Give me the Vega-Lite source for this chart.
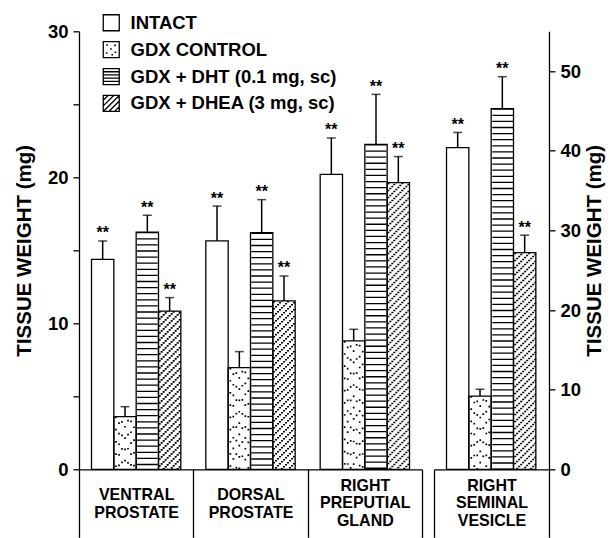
{
  "$schema": "https://vega.github.io/schema/vega-lite/v6.json",
  "autosize": {"type": "pad"},
  "padding": {"left": 14, "top": 13.3, "right": 0, "bottom": 0},
  "config": {"view": {"stroke": null}, "font": "Liberation Sans", "axis": {"grid": false}},
  "spacing": 10,
  "resolve": {"scale": {"fill": "independent"}, "legend": {"fill": "independent"}},
  "datasets": {
    "tw": [
      {"panel": "L", "group": "VENTRAL|PROSTATE", "series": "INTACT", "mean": 14.38, "hi": 15.64, "sig": "**"},
      {"panel": "L", "group": "VENTRAL|PROSTATE", "series": "GDX CONTROL", "mean": 3.61, "hi": 4.29, "sig": ""},
      {"panel": "L", "group": "VENTRAL|PROSTATE", "series": "GDX + DHT (0.1 mg, sc)", "mean": 16.25, "hi": 17.4, "sig": "**"},
      {"panel": "L", "group": "VENTRAL|PROSTATE", "series": "GDX + DHEA (3 mg, sc)", "mean": 10.84, "hi": 11.76, "sig": "**"},
      {"panel": "L", "group": "DORSAL|PROSTATE", "series": "INTACT", "mean": 15.64, "hi": 18.03, "sig": "**"},
      {"panel": "L", "group": "DORSAL|PROSTATE", "series": "GDX CONTROL", "mean": 6.96, "hi": 8.06, "sig": ""},
      {"panel": "L", "group": "DORSAL|PROSTATE", "series": "GDX + DHT (0.1 mg, sc)", "mean": 16.21, "hi": 18.47, "sig": "**"},
      {"panel": "L", "group": "DORSAL|PROSTATE", "series": "GDX + DHEA (3 mg, sc)", "mean": 11.53, "hi": 13.24, "sig": "**"},
      {"panel": "L", "group": "RIGHT|PREPUTIAL|GLAND", "series": "INTACT", "mean": 20.2, "hi": 22.7, "sig": "**"},
      {"panel": "L", "group": "RIGHT|PREPUTIAL|GLAND", "series": "GDX CONTROL", "mean": 8.79, "hi": 9.59, "sig": ""},
      {"panel": "L", "group": "RIGHT|PREPUTIAL|GLAND", "series": "GDX + DHT (0.1 mg, sc)", "mean": 22.26, "hi": 25.68, "sig": "**"},
      {"panel": "L", "group": "RIGHT|PREPUTIAL|GLAND", "series": "GDX + DHEA (3 mg, sc)", "mean": 19.63, "hi": 21.42, "sig": "**"},
      {"panel": "R", "group": "RIGHT|SEMINAL|VESICLE", "series": "INTACT", "mean": 40.4, "hi": 42.3, "sig": "**"},
      {"panel": "R", "group": "RIGHT|SEMINAL|VESICLE", "series": "GDX CONTROL", "mean": 9.2, "hi": 10.05, "sig": ""},
      {"panel": "R", "group": "RIGHT|SEMINAL|VESICLE", "series": "GDX + DHT (0.1 mg, sc)", "mean": 45.3, "hi": 49.3, "sig": "**"},
      {"panel": "R", "group": "RIGHT|SEMINAL|VESICLE", "series": "GDX + DHEA (3 mg, sc)", "mean": 27.2, "hi": 29.4, "sig": "**"}
    ]
  },
  "hconcat": [
    {
      "width": 343,
      "height": 438,
      "data": {"name": "tw"},
      "transform": [{"filter": "datum.panel === 'L'"}],
      "layer": [
        {
          "mark": {"type": "bar", "strokeWidth": 0},
          "encoding": {
            "x": {"field": "group", "type": "nominal", "sort": ["VENTRAL|PROSTATE", "DORSAL|PROSTATE", "RIGHT|PREPUTIAL|GLAND"], "scale": {"paddingInner": 0, "paddingOuter": 0},
              "axis": {"title": null, "domainColor": "black", "domainWidth": 1.3, "tickColor": "black", "tickWidth": 1.3, "tickSize": 68, "tickBand": "extent", "labelExpr": "split(datum.label, '|')", "labelAngle": 0, "labelFont": "Liberation Sans", "labelFontSize": 16, "labelFontWeight": "bold", "labelColor": "black", "labelBaseline": "middle", "labelLineHeight": 17.6, "labelPadding": {"condition": {"test": "datum.value === 'RIGHT|PREPUTIAL|GLAND'", "value": -52}, "value": -42.3}, "labelLimit": 0}},
            "xOffset": {"field": "series", "type": "nominal", "sort": ["INTACT", "GDX CONTROL", "GDX + DHT (0.1 mg, sc)", "GDX + DHEA (3 mg, sc)"], "scale": {"paddingInner": 0, "paddingOuter": 0.56}},
            "y": {"field": "mean", "type": "quantitative", "stack": null, "scale": {"domain": [0, 30], "nice": false, "zero": true},
              "axis": {"title": "TISSUE WEIGHT (mg)", "values": [0, 5, 10, 15, 20, 25, 30], "labelExpr": "datum.value % 10 === 0 ? datum.label : ''", "domainColor": "black", "domainWidth": 1.3, "tickColor": "black", "tickWidth": 1.3, "tickSize": 6, "labelFont": "Liberation Sans", "labelFontSize": 18.5, "labelFontWeight": "bold", "labelColor": "black", "labelPadding": 5, "titleFont": "Liberation Sans", "titleFontSize": 20.5, "titleFontWeight": "bold", "titleColor": "black", "titlePadding": 13}},
            "fill": {"field": "series", "type": "nominal", "scale": {"domain": ["INTACT", "GDX CONTROL", "GDX + DHT (0.1 mg, sc)", "GDX + DHEA (3 mg, sc)"], "range": ["white", "white", "white", "white"]},
              "legend": {"orient": "none", "legendX": 23, "legendY": -17.8, "title": null, "padding": 0, "rowPadding": 4.9, "symbolSize": 256, "symbolStrokeWidth": 1.3, "symbolStrokeColor": "black", "symbolFillColor": "white", "labelFont": "Liberation Sans", "labelFontSize": 18.5, "labelFontWeight": "bold", "labelColor": "black", "labelOffset": 10, "labelLimit": 0,
                "encode": {"symbols": {"update": {
                  "shape": [
                    {"test": "datum.value === 'GDX CONTROL'", "value": "M-1,-1H1V1H-1Z M-0.55,-0.6h0.04v0.04h-0.04Z M0.45,-0.55h0.04v0.04h-0.04Z M-0.05,-0.1h0.04v0.04h-0.04Z M-0.6,0.4h0.04v0.04h-0.04Z M0.5,0.3h0.04v0.04h-0.04Z M0.1,0.62h0.04v0.04h-0.04Z"},
                    {"test": "datum.value === 'GDX + DHT (0.1 mg, sc)'", "value": "M-1,-1H1V1H-1Z M-1,-0.6H1 M-1,-0.2H1 M-1,0.2H1 M-1,0.6H1"},
                    {"test": "datum.value === 'GDX + DHEA (3 mg, sc)'", "value": "M-1,-1H1V1H-1Z M-1,-0.4L-0.4,-1 M-1,0.3L0.3,-1 M-1,1L1,-1 M-0.3,1L1,-0.3 M0.4,1L1,0.4"},
                    {"value": "square"}
                  ],
                  "fill": {"value": "white"},
                  "stroke": {"value": "black"},
                  "strokeWidth": {"value": 1.3}
                }}}}}
          }
        },
        {
          "transform": [{"filter": "datum.series === 'GDX + DHT (0.1 mg, sc)'"}],
          "mark": {"type": "rule", "color": "black", "strokeWidth": 20.8, "strokeDash": [1.3, 4.8]},
          "encoding": {
            "x": {"field": "group", "type": "nominal", "sort": ["VENTRAL|PROSTATE", "DORSAL|PROSTATE", "RIGHT|PREPUTIAL|GLAND"], "bandPosition": 0.59766},
            "y": {"field": "mean", "type": "quantitative"},
            "y2": {"datum": 0}
          }
        },
        {
          "transform": [{"filter": "datum.series === 'GDX CONTROL'"}],
          "encoding": {
            "x": {"field": "group", "type": "nominal", "sort": ["VENTRAL|PROSTATE", "DORSAL|PROSTATE", "RIGHT|PREPUTIAL|GLAND"], "bandPosition": 0.40234},
            "y": {"field": "mean", "type": "quantitative"},
            "y2": {"datum": 0}
          },
          "layer": [
            {"mark": {"type": "rule", "color": "black", "strokeWidth": 1.7, "strokeDash": [1.7, 10.5], "strokeDashOffset": 0, "xOffset": -9}},
            {"mark": {"type": "rule", "color": "black", "strokeWidth": 1.7, "strokeDash": [1.7, 8.9], "strokeDashOffset": 5, "xOffset": -6}},
            {"mark": {"type": "rule", "color": "black", "strokeWidth": 1.7, "strokeDash": [1.7, 11.8], "strokeDashOffset": 9, "xOffset": -3}},
            {"mark": {"type": "rule", "color": "black", "strokeWidth": 1.7, "strokeDash": [1.7, 9.6], "strokeDashOffset": 2, "xOffset": 0}},
            {"mark": {"type": "rule", "color": "black", "strokeWidth": 1.7, "strokeDash": [1.7, 12.4], "strokeDashOffset": 11, "xOffset": 3}},
            {"mark": {"type": "rule", "color": "black", "strokeWidth": 1.7, "strokeDash": [1.7, 9.2], "strokeDashOffset": 7, "xOffset": 6}},
            {"mark": {"type": "rule", "color": "black", "strokeWidth": 1.7, "strokeDash": [1.7, 11.1], "strokeDashOffset": 3, "xOffset": 9}}
          ]
        },
        {
          "transform": [{"filter": "datum.series === 'GDX + DHEA (3 mg, sc)'"}],
          "encoding": {
            "x": {"field": "group", "type": "nominal", "sort": ["VENTRAL|PROSTATE", "DORSAL|PROSTATE", "RIGHT|PREPUTIAL|GLAND"], "bandPosition": 0.79297},
            "y": {"field": "mean", "type": "quantitative"},
            "y2": {"datum": 0}
          },
          "layer": [
            {"mark": {"type": "rule", "color": "black", "strokeWidth": 2, "strokeDash": [1.6, 5.4], "strokeDashOffset": 0, "xOffset": -10}},
            {"mark": {"type": "rule", "color": "black", "strokeWidth": 2, "strokeDash": [1.6, 5.4], "strokeDashOffset": 2, "xOffset": -8}},
            {"mark": {"type": "rule", "color": "black", "strokeWidth": 2, "strokeDash": [1.6, 5.4], "strokeDashOffset": 4, "xOffset": -6}},
            {"mark": {"type": "rule", "color": "black", "strokeWidth": 2, "strokeDash": [1.6, 5.4], "strokeDashOffset": 6, "xOffset": -4}},
            {"mark": {"type": "rule", "color": "black", "strokeWidth": 2, "strokeDash": [1.6, 5.4], "strokeDashOffset": 8, "xOffset": -2}},
            {"mark": {"type": "rule", "color": "black", "strokeWidth": 2, "strokeDash": [1.6, 5.4], "strokeDashOffset": 10, "xOffset": 0}},
            {"mark": {"type": "rule", "color": "black", "strokeWidth": 2, "strokeDash": [1.6, 5.4], "strokeDashOffset": 12, "xOffset": 2}},
            {"mark": {"type": "rule", "color": "black", "strokeWidth": 2, "strokeDash": [1.6, 5.4], "strokeDashOffset": 14, "xOffset": 4}},
            {"mark": {"type": "rule", "color": "black", "strokeWidth": 2, "strokeDash": [1.6, 5.4], "strokeDashOffset": 16, "xOffset": 6}},
            {"mark": {"type": "rule", "color": "black", "strokeWidth": 2, "strokeDash": [1.6, 5.4], "strokeDashOffset": 18, "xOffset": 8}},
            {"mark": {"type": "rule", "color": "black", "strokeWidth": 2, "strokeDash": [1.6, 5.4], "strokeDashOffset": 20, "xOffset": 10}}
          ]
        },
        {
          "encoding": {
            "x": {"field": "group", "type": "nominal", "sort": ["VENTRAL|PROSTATE", "DORSAL|PROSTATE", "RIGHT|PREPUTIAL|GLAND"]},
            "xOffset": {"field": "series", "type": "nominal", "sort": ["INTACT", "GDX CONTROL", "GDX + DHT (0.1 mg, sc)", "GDX + DHEA (3 mg, sc)"]}
          },
          "layer": [
            {"mark": {"type": "bar", "fill": "transparent", "stroke": "black", "strokeWidth": 1.3}, "encoding": {"y": {"field": "mean", "type": "quantitative", "stack": null}}},
            {"mark": {"type": "rule", "color": "black", "strokeWidth": 1.5}, "encoding": {"y": {"field": "mean", "type": "quantitative"}, "y2": {"field": "hi"}}},
            {"mark": {"type": "tick", "orient": "horizontal", "color": "black", "size": 9, "thickness": 1.5}, "encoding": {"y": {"field": "hi", "type": "quantitative"}}},
            {"mark": {"type": "text", "font": "Liberation Sans", "fontSize": 16, "fontWeight": "bold", "baseline": "alphabetic", "dy": -2.5, "color": "black"}, "encoding": {"y": {"field": "hi", "type": "quantitative"}, "text": {"field": "sig"}}}
          ]
        }
      ]
    },
    {
      "width": 115,
      "height": 438,
      "data": {"name": "tw"},
      "transform": [{"filter": "datum.panel === 'R'"}],
      "layer": [
        {
          "mark": {"type": "bar", "fill": "white", "strokeWidth": 0},
          "encoding": {
            "x": {"field": "group", "type": "nominal", "scale": {"paddingInner": 0, "paddingOuter": 0},
              "axis": {"title": null, "domainColor": "black", "domainWidth": 1.3, "tickColor": "black", "tickWidth": 1.3, "tickSize": 68, "tickBand": "extent", "labelExpr": "split(datum.label, '|')", "labelAngle": 0, "labelFont": "Liberation Sans", "labelFontSize": 16, "labelFontWeight": "bold", "labelColor": "black", "labelBaseline": "middle", "labelLineHeight": 17.6, "labelPadding": -52, "labelLimit": 0}},
            "xOffset": {"field": "series", "type": "nominal", "sort": ["INTACT", "GDX CONTROL", "GDX + DHT (0.1 mg, sc)", "GDX + DHEA (3 mg, sc)"], "scale": {"paddingInner": 0, "paddingOuter": 0.56}},
            "y": {"field": "mean", "type": "quantitative", "stack": null, "scale": {"domain": [0, 55], "nice": false, "zero": true},
              "axis": {"orient": "right", "title": "TISSUE WEIGHT (mg)", "values": [0, 5, 10, 15, 20, 25, 30, 35, 40, 45, 50, 55], "labelExpr": "datum.value % 10 === 0 ? datum.label : ''", "domainColor": "black", "domainWidth": 1.3, "tickColor": "black", "tickWidth": 1.3, "tickSize": 6, "labelFont": "Liberation Sans", "labelFontSize": 18.5, "labelFontWeight": "bold", "labelColor": "black", "labelPadding": 5, "titleFont": "Liberation Sans", "titleFontSize": 20.5, "titleFontWeight": "bold", "titleColor": "black", "titleAngle": 270, "titleBaseline": "top", "titlePadding": 4}}
          }
        },
        {
          "transform": [{"filter": "datum.series === 'GDX + DHT (0.1 mg, sc)'"}],
          "mark": {"type": "rule", "color": "black", "strokeWidth": 20.9, "strokeDash": [1.3, 4.8]},
          "encoding": {
            "x": {"field": "group", "type": "nominal", "bandPosition": 0.59766},
            "y": {"field": "mean", "type": "quantitative"},
            "y2": {"datum": 0}
          }
        },
        {
          "transform": [{"filter": "datum.series === 'GDX CONTROL'"}],
          "encoding": {
            "x": {"field": "group", "type": "nominal", "bandPosition": 0.40234},
            "y": {"field": "mean", "type": "quantitative"},
            "y2": {"datum": 0}
          },
          "layer": [
            {"mark": {"type": "rule", "color": "black", "strokeWidth": 1.7, "strokeDash": [1.7, 10.5], "strokeDashOffset": 0, "xOffset": -9}},
            {"mark": {"type": "rule", "color": "black", "strokeWidth": 1.7, "strokeDash": [1.7, 8.9], "strokeDashOffset": 5, "xOffset": -6}},
            {"mark": {"type": "rule", "color": "black", "strokeWidth": 1.7, "strokeDash": [1.7, 11.8], "strokeDashOffset": 9, "xOffset": -3}},
            {"mark": {"type": "rule", "color": "black", "strokeWidth": 1.7, "strokeDash": [1.7, 9.6], "strokeDashOffset": 2, "xOffset": 0}},
            {"mark": {"type": "rule", "color": "black", "strokeWidth": 1.7, "strokeDash": [1.7, 12.4], "strokeDashOffset": 11, "xOffset": 3}},
            {"mark": {"type": "rule", "color": "black", "strokeWidth": 1.7, "strokeDash": [1.7, 9.2], "strokeDashOffset": 7, "xOffset": 6}},
            {"mark": {"type": "rule", "color": "black", "strokeWidth": 1.7, "strokeDash": [1.7, 11.1], "strokeDashOffset": 3, "xOffset": 9}}
          ]
        },
        {
          "transform": [{"filter": "datum.series === 'GDX + DHEA (3 mg, sc)'"}],
          "encoding": {
            "x": {"field": "group", "type": "nominal", "bandPosition": 0.79297},
            "y": {"field": "mean", "type": "quantitative"},
            "y2": {"datum": 0}
          },
          "layer": [
            {"mark": {"type": "rule", "color": "black", "strokeWidth": 2, "strokeDash": [1.6, 5.4], "strokeDashOffset": 0, "xOffset": -10}},
            {"mark": {"type": "rule", "color": "black", "strokeWidth": 2, "strokeDash": [1.6, 5.4], "strokeDashOffset": 2, "xOffset": -8}},
            {"mark": {"type": "rule", "color": "black", "strokeWidth": 2, "strokeDash": [1.6, 5.4], "strokeDashOffset": 4, "xOffset": -6}},
            {"mark": {"type": "rule", "color": "black", "strokeWidth": 2, "strokeDash": [1.6, 5.4], "strokeDashOffset": 6, "xOffset": -4}},
            {"mark": {"type": "rule", "color": "black", "strokeWidth": 2, "strokeDash": [1.6, 5.4], "strokeDashOffset": 8, "xOffset": -2}},
            {"mark": {"type": "rule", "color": "black", "strokeWidth": 2, "strokeDash": [1.6, 5.4], "strokeDashOffset": 10, "xOffset": 0}},
            {"mark": {"type": "rule", "color": "black", "strokeWidth": 2, "strokeDash": [1.6, 5.4], "strokeDashOffset": 12, "xOffset": 2}},
            {"mark": {"type": "rule", "color": "black", "strokeWidth": 2, "strokeDash": [1.6, 5.4], "strokeDashOffset": 14, "xOffset": 4}},
            {"mark": {"type": "rule", "color": "black", "strokeWidth": 2, "strokeDash": [1.6, 5.4], "strokeDashOffset": 16, "xOffset": 6}},
            {"mark": {"type": "rule", "color": "black", "strokeWidth": 2, "strokeDash": [1.6, 5.4], "strokeDashOffset": 18, "xOffset": 8}},
            {"mark": {"type": "rule", "color": "black", "strokeWidth": 2, "strokeDash": [1.6, 5.4], "strokeDashOffset": 20, "xOffset": 10}}
          ]
        },
        {
          "encoding": {
            "x": {"field": "group", "type": "nominal"},
            "xOffset": {"field": "series", "type": "nominal", "sort": ["INTACT", "GDX CONTROL", "GDX + DHT (0.1 mg, sc)", "GDX + DHEA (3 mg, sc)"]}
          },
          "layer": [
            {"mark": {"type": "bar", "fill": "transparent", "stroke": "black", "strokeWidth": 1.3}, "encoding": {"y": {"field": "mean", "type": "quantitative", "stack": null}}},
            {"mark": {"type": "rule", "color": "black", "strokeWidth": 1.5}, "encoding": {"y": {"field": "mean", "type": "quantitative"}, "y2": {"field": "hi"}}},
            {"mark": {"type": "tick", "orient": "horizontal", "color": "black", "size": 9, "thickness": 1.5}, "encoding": {"y": {"field": "hi", "type": "quantitative"}}},
            {"mark": {"type": "text", "font": "Liberation Sans", "fontSize": 16, "fontWeight": "bold", "baseline": "alphabetic", "dy": -2.5, "color": "black"}, "encoding": {"y": {"field": "hi", "type": "quantitative"}, "text": {"field": "sig"}}}
          ]
        }
      ]
    }
  ]
}
